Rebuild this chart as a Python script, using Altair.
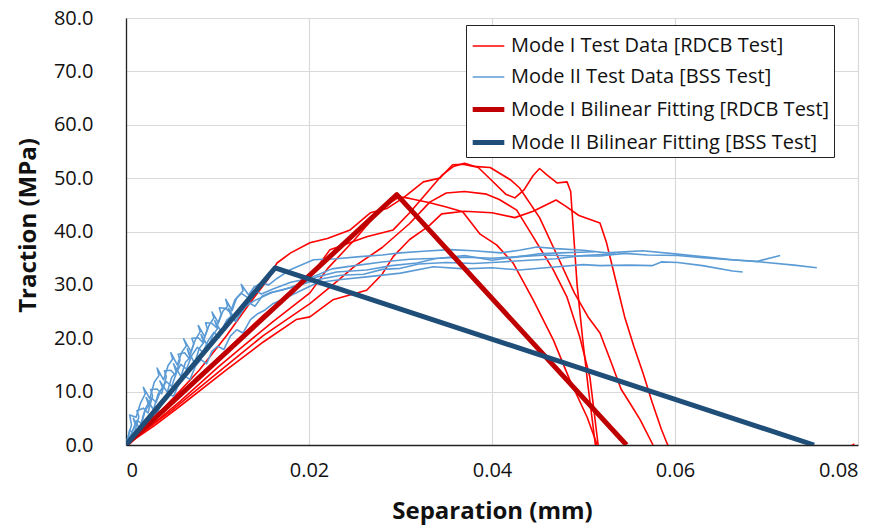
import altair as alt
import pandas as pd

S_R = "Mode I Test Data [RDCB Test]"
S_B = "Mode II Test Data [BSS Test]"
S_RF = "Mode I Bilinear Fitting [RDCB Test]"
S_BF = "Mode II Bilinear Fitting [BSS Test]"
SERIES = [S_R, S_B, S_RF, S_BF]
COLORS = ["#FF0000", "#5B9BD5", "#C00000", "#1F4E79"]
WIDTHS = [1.6, 1.6, 5, 5]

# ---- Mode I test data (RDCB) ----
r1_x = [0, 0.003, 0.006, 0.010, 0.013, 0.016, 0.0201, 0.022, 0.025, 0.027, 0.0285, 0.0299, 0.031, 0.0332,
        0.035, 0.0368, 0.0387, 0.0405, 0.0423, 0.0445, 0.0467, 0.0485, 0.0504, 0.0515]
r1_y = [0, 4.0, 8.3, 14.5, 18.8, 23.0, 28.5, 33.0, 38.5, 42.5, 45.0, 46.5, 46.2, 45.4,
        44.6, 43.7, 39.5, 37.5, 34.1, 27.2, 19.7, 12.2, 5.2, 0]

r2_x = [0, 0.002, 0.005, 0.008, 0.011, 0.0135, 0.0155, 0.0165, 0.018, 0.0201, 0.022, 0.0245, 0.0267, 0.0285,
        0.0303, 0.0325, 0.0343, 0.0357, 0.0368, 0.038, 0.0398, 0.042, 0.043, 0.0452, 0.0471, 0.049, 0.0505,
        0.0518, 0.053, 0.0541, 0.0552, 0.0562, 0.0576]
r2_y = [0, 3.0, 8.5, 14.0, 20.5, 26.5, 31.0, 34.1, 36.0, 37.9, 38.7, 40.3, 43.5, 44.3,
        46.3, 49.3, 50.0, 52.5, 52.6, 52.2, 52.0, 49.7, 48.2, 42.6, 35.6, 28.5, 24.0,
        21.0, 15.6, 10.5, 7.5, 4.7, 0]

r3_x = [0, 0.003, 0.006, 0.010, 0.015, 0.0201, 0.0223, 0.024, 0.0263, 0.0292, 0.031, 0.033, 0.0345, 0.0358,
        0.037, 0.0385, 0.040, 0.0415, 0.0425, 0.0435, 0.0445, 0.0452, 0.046, 0.0471, 0.0482, 0.0486, 0.0489,
        0.0493, 0.0499, 0.0505, 0.0513]
r3_y = [0, 4.6, 9.4, 16.2, 24.3, 31.5, 36.6, 37.6, 39.0, 40.3, 43.5, 47.5, 50.5, 52.2,
        52.8, 52.0, 49.5, 47.0, 46.3, 47.8, 50.5, 51.8, 50.6, 49.1, 49.3, 47.5, 40.0,
        30.0, 20.0, 11.0, 0]

r4_x = [0, 0.003, 0.006, 0.0109, 0.015, 0.0186, 0.0201, 0.0226, 0.0263, 0.028, 0.0292, 0.031, 0.0325,
        0.0332, 0.0345, 0.037, 0.040, 0.0425, 0.0445, 0.047, 0.048, 0.0495, 0.0518, 0.0525, 0.0535,
        0.0545, 0.0555, 0.0565, 0.0575, 0.0585, 0.0592, 0.0600, 0.0785, 0.0796]
r4_y = [0, 3.5, 7.4, 14.0, 19.3, 23.5, 24.0, 27.2, 29.0, 32.0, 35.3, 38.5, 40.3,
        41.2, 43.3, 43.8, 43.5, 42.6, 43.8, 45.9, 44.8, 43.0, 41.6, 38.0, 31.0,
        24.0, 18.5, 13.5, 8.0, 3.0, 0, -1.0, -1.0, 0.2]

r5_x = [0, 0.005, 0.010, 0.015, 0.0201, 0.0226, 0.025, 0.028, 0.031, 0.0332, 0.035, 0.037, 0.0394, 0.0408,
        0.0427, 0.0445, 0.0467, 0.0482, 0.0496, 0.0507, 0.0516]
r5_y = [0, 6.5, 13.5, 20.5, 26.5, 30.0, 33.5, 37.0, 41.5, 45.5, 47.2, 47.5, 47.0, 46.0,
        44.0, 39.0, 32.8, 27.7, 20.2, 12.7, 0]

# ---- Mode II test data (BSS) ----
b1_x = [0, 0.0006, 0.0004, 0.0011, 0.0016, 0.0021, 0.0019, 0.0026, 0.0031, 0.0036, 0.0034, 0.0041, 0.0046,
        0.0051, 0.0049, 0.0056, 0.0061, 0.0066, 0.0063, 0.0071, 0.0076, 0.0081, 0.0079, 0.0086, 0.0091,
        0.0096, 0.0094, 0.0101, 0.0106, 0.0111, 0.0109, 0.0116, 0.0121, 0.0128, 0.0126, 0.0134, 0.0140,
        0.0148, 0.0156, 0.0165, 0.018, 0.0205, 0.023, 0.0256, 0.028, 0.030, 0.0325,
        0.0354, 0.038, 0.041, 0.043, 0.0449, 0.047, 0.050, 0.0525, 0.0565, 0.060, 0.0635, 0.0663, 0.070,
        0.073, 0.0755]
b1_y = [0, 3.8, 5.6, 5.2, 7.9, 9.6, 10.8, 8.7, 11.8, 13.0, 14.4, 12.2, 14.9,
        16.1, 17.3, 15.0, 17.4, 18.6, 19.9, 17.5, 19.8, 21.2, 22.4, 20.3, 22.5,
        23.8, 24.9, 22.9, 25.1, 26.0, 27.3, 25.2, 27.6, 28.9, 30.1, 28.1, 29.6,
        30.4, 30.0, 31.2, 32.9, 34.7, 34.9, 35.3, 35.6, 36.0, 36.3,
        36.6, 36.4, 36.0, 36.5, 37.1, 36.8, 36.5, 36.0, 36.4, 35.8, 35.2, 34.7, 34.2,
        33.7, 33.2]

b2_x = [0, 0.0005, 0.001, 0.0008, 0.0015, 0.002, 0.0025, 0.0022, 0.003, 0.0035, 0.004, 0.0037, 0.0045,
        0.005, 0.0055, 0.0052, 0.006, 0.0065, 0.007, 0.0067, 0.0075, 0.008, 0.0085, 0.0082, 0.009, 0.0095,
        0.010, 0.0097, 0.0105, 0.011, 0.0115, 0.0112, 0.012, 0.013, 0.014, 0.015,
        0.016, 0.018, 0.0209, 0.023, 0.0263, 0.029, 0.0318, 0.034, 0.037, 0.040, 0.043, 0.046, 0.049, 0.0518,
        0.0545, 0.057, 0.0603, 0.063, 0.066, 0.069, 0.0715]
b2_y = [0, 1.5, 3.9, 5.0, 3.1, 6.2, 7.4, 8.9, 6.6, 9.5, 10.8, 12.0, 9.9,
        12.7, 13.6, 15.2, 12.8, 15.5, 16.4, 18.0, 15.3, 18.1, 19.2, 20.7, 18.4, 20.6,
        21.8, 23.3, 20.9, 23.4, 24.1, 25.6, 23.2, 25.9, 27.0, 27.8,
        28.6, 29.5, 31.5, 32.4, 32.8, 33.6, 34.1, 35.0, 35.2, 35.0, 35.3, 35.6, 35.4, 35.4,
        35.9, 35.6, 35.5, 35.1, 34.7, 34.4, 35.5]

b3_x = [0, 0.0007, 0.0012, 0.0018, 0.0023, 0.0029, 0.0034, 0.004, 0.0046, 0.0052, 0.0058, 0.0064, 0.007,
        0.0076, 0.0082, 0.0088, 0.0094, 0.010, 0.0107, 0.0114, 0.0121, 0.0128, 0.0136, 0.0144, 0.0152, 0.016,
        0.018, 0.0209, 0.0235, 0.0263, 0.030, 0.0336, 0.037, 0.040, 0.043, 0.0465, 0.050, 0.0518, 0.055,
        0.0575, 0.0585, 0.0603, 0.063, 0.0663, 0.0674]
b3_y = [0, 1.2, 2.6, 3.5, 4.8, 6.3, 5.9, 8.4, 9.7, 9.1, 11.6, 12.9, 12.3,
        14.8, 16.0, 15.2, 17.6, 18.5, 17.9, 20.4, 21.6, 21.0, 23.5, 24.6, 25.3, 26.4,
        28.0, 30.4, 31.0, 31.5, 32.2, 33.4, 33.0, 33.2, 32.8, 33.3, 33.8, 33.6, 33.7,
        33.6, 34.3, 34.2, 33.6, 32.6, 32.4]

b4_x = [0, 0.0004, 0.0009, 0.0014, 0.0012, 0.0019, 0.0024, 0.0029, 0.0027, 0.0034, 0.0039, 0.0044, 0.0042,
        0.0049, 0.0054, 0.0059, 0.0057, 0.0064, 0.0069, 0.0074, 0.0072, 0.0079, 0.0084, 0.0089, 0.0087,
        0.0094, 0.0099, 0.0104, 0.0102, 0.0109, 0.0114, 0.0119,
        0.0126, 0.0133, 0.014, 0.0148, 0.016, 0.018, 0.020, 0.0225, 0.025, 0.028, 0.031, 0.0343, 0.037,
        0.040, 0.0425, 0.045, 0.0475, 0.0512]
b4_y = [0, 2.8, 2.1, 5.3, 6.4, 6.9, 6.0, 9.2, 10.4, 10.5, 9.6, 12.8, 13.9,
        14.0, 13.1, 15.9, 17.0, 17.3, 16.2, 18.9, 20.0, 20.1, 19.2, 21.7, 22.9,
        22.8, 22.0, 24.5, 25.7, 25.6, 24.8, 27.2,
        28.4, 27.6, 29.0, 28.3, 29.2, 30.5, 31.2, 33.0, 33.6, 34.3, 34.8, 35.0, 35.5,
        34.6, 35.2, 35.8, 36.0, 36.2]

b5_x = [0, 0.0006, 0.0012, 0.0017, 0.0022, 0.0028, 0.0033, 0.0038, 0.0044, 0.005, 0.0055, 0.006, 0.0066,
        0.0072, 0.0078, 0.0084, 0.009, 0.0096, 0.0102, 0.0108, 0.0114, 0.012, 0.0127, 0.0134, 0.0141, 0.0149,
        0.0157, 0.017, 0.019, 0.021, 0.0235, 0.026, 0.028, 0.030, 0.032, 0.035, 0.038, 0.041, 0.044, 0.047,
        0.050, 0.0535]
b5_y = [0, 2.2, 4.6, 4.0, 7.1, 8.8, 8.0, 10.2, 11.9, 11.0, 13.5, 15.1, 14.2,
        16.8, 18.3, 17.4, 19.6, 21.1, 20.2, 22.7, 24.0, 23.1, 25.5, 26.7, 26.0, 27.9,
        28.5, 29.0, 30.0, 31.0, 31.8, 32.0, 32.9, 33.1, 33.9, 34.2, 34.0, 34.3, 34.6, 34.9,
        35.5, 35.8]

# ---- Bilinear fits ----
rf_x = [0, 0.0296, 0.0547]
rf_y = [0, 46.9, 0]
bf_x = [0, 0.0163, 0.0752]
bf_y = [0, 33.2, 0]

curves = [
    (S_R, "r1", r1_x, r1_y), (S_R, "r2", r2_x, r2_y), (S_R, "r3", r3_x, r3_y),
    (S_R, "r4", r4_x, r4_y), (S_R, "r5", r5_x, r5_y),
    (S_B, "b1", b1_x, b1_y), (S_B, "b2", b2_x, b2_y), (S_B, "b3", b3_x, b3_y),
    (S_B, "b4", b4_x, b4_y), (S_B, "b5", b5_x, b5_y),
    (S_RF, "rf", rf_x, rf_y), (S_BF, "bf", bf_x, bf_y),
]
rows = []
for series, cid, xs, ys in curves:
    for i, (xv, yv) in enumerate(zip(xs, ys)):
        rows.append({"series": series, "curve": cid, "idx": i, "sep": xv, "trac": yv})
df = pd.DataFrame(rows)

FONT = "Open Sans"

x_enc = alt.X("sep:Q", scale=alt.Scale(domain=[0, 0.08], nice=False),
              axis=alt.Axis(values=[0, 0.02, 0.04, 0.06, 0.08], format=".2~f", title="Separation (mm)",
                            titleX=366, titleY=73, titleBaseline="alphabetic", labelPadding=15))
y_enc = alt.Y("trac:Q", scale=alt.Scale(domain=[0, 80], nice=False),
              axis=alt.Axis(values=list(range(0, 81, 10)), format=".1f", title="Traction (MPa)",
                            titleX=-98, titleY=207, titleBaseline="middle", titleAngle=-90, labelPadding=33))
legend_props = dict(title=None, orient="none", legendX=340, legendY=7,
                    symbolType="stroke", symbolSize=1000, labelFontSize=20,
                    labelFont=FONT, labelColor="#111", fillColor="white",
                    strokeColor="#222", padding=4, rowPadding=4,
                    labelOffset=4, labelLimit=420)
color_enc = alt.Color("series:N", scale=alt.Scale(domain=SERIES, range=COLORS),
                      legend=alt.Legend(**legend_props))
sw_enc = alt.StrokeWidth("series:N", scale=alt.Scale(type="ordinal", domain=SERIES, range=WIDTHS),
                         legend=alt.Legend(**legend_props))

layers = []
for s in SERIES:
    layers.append(
        alt.Chart(df).transform_filter(alt.datum.series == s)
        .mark_line(clip=True, strokeJoin="round")
        .encode(x=x_enc, y=y_enc, color=color_enc, strokeWidth=sw_enc,
                detail="curve:N", order="idx:Q")
    )

chart = alt.layer(*layers).properties(
    width=732, height=427,
    autosize=alt.AutoSizeParams(type="none"),
    padding={"left": 126, "top": 18, "right": 30, "bottom": 86},
).configure_view(stroke=None).configure_axis(
    grid=True, gridColor="#D9D9D9", gridWidth=1.2, ticks=False,
    domainColor="#222", domainWidth=1.3,
    labelFont=FONT, labelFontSize=20, labelColor="#111",
    titleFont=FONT, titleFontSize=24, titleFontWeight="bold", titleColor="#111",
)

chart.save("out.html", embed_options={"renderer": "svg", "actions": False})
